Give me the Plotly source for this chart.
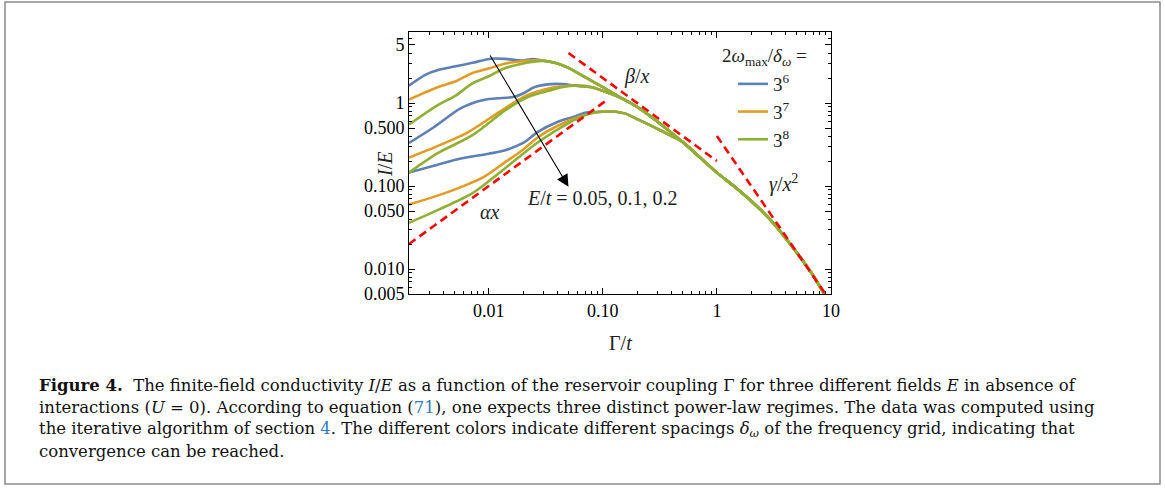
import plotly.graph_objects as go
import math

# ---------------- data ----------------
# common tail after all curves merge (x = Gamma/t, y = I/E)
tail_x = [0.2, 0.3, 0.5, 0.7, 1.0, 1.5, 2.0, 3.0, 5.0, 7.0, 8.5, 10.0]
tail_y = [0.90, 0.60, 0.34, 0.225, 0.145, 0.093, 0.066, 0.038, 0.0158, 0.0083, 0.0053, 0.0036]

# E/t = 0.05 (top group)
top_blue_x = [0.002, 0.0028, 0.0036, 0.005, 0.0072, 0.0105, 0.014, 0.0197, 0.024, 0.03]
top_blue_y = [1.62, 2.2, 2.5, 2.75, 3.05, 3.42, 3.40, 3.25, 3.38, 3.24]
top_orange_x = [0.002, 0.0036, 0.005, 0.0072, 0.01, 0.014, 0.02, 0.025, 0.03]
top_orange_y = [1.1, 1.56, 1.8, 2.3, 2.6, 3.0, 3.2, 3.28, 3.24]
top_green_x = [0.002, 0.0036, 0.005, 0.0072, 0.01, 0.014, 0.02, 0.025, 0.03]
top_green_y = [0.55, 0.95, 1.2, 1.72, 2.1, 2.64, 3.0, 3.15, 3.22]
top_common_x = [0.04, 0.05, 0.07, 0.1, 0.15]
top_common_y = [3.0, 2.65, 2.05, 1.55, 1.12]

# E/t = 0.1 (middle group)
mid_blue_x = [0.002, 0.0033, 0.0057, 0.009, 0.013, 0.0165, 0.02, 0.025, 0.035, 0.045, 0.06]
mid_blue_y = [0.33, 0.51, 0.87, 1.09, 1.15, 1.18, 1.3, 1.55, 1.69, 1.69, 1.6]
mid_orange_x = [0.002, 0.0035, 0.0065, 0.0103, 0.0155, 0.022, 0.035, 0.05, 0.06]
mid_orange_y = [0.22, 0.30, 0.44, 0.66, 0.95, 1.25, 1.52, 1.61, 1.62]
mid_green_x = [0.002, 0.0036, 0.0072, 0.014, 0.022, 0.035, 0.05, 0.06]
mid_green_y = [0.145, 0.25, 0.41, 0.82, 1.18, 1.43, 1.6, 1.62]
mid_common_x = [0.08, 0.1, 0.15]
mid_common_y = [1.55, 1.40, 1.12]

# E/t = 0.2 (bottom group)
bot_blue_x = [0.002, 0.0033, 0.0057, 0.01, 0.014, 0.02, 0.027, 0.04, 0.055, 0.07]
bot_blue_y = [0.145, 0.175, 0.215, 0.245, 0.27, 0.33, 0.45, 0.59, 0.68, 0.765]
bot_orange_x = [0.002, 0.0033, 0.0057, 0.009, 0.014, 0.0197, 0.0272, 0.0383, 0.061]
bot_orange_y = [0.06, 0.074, 0.097, 0.128, 0.195, 0.27, 0.39, 0.514, 0.68]
bot_green_x = [0.002, 0.0036, 0.0072, 0.014, 0.0272, 0.05, 0.07]
bot_green_y = [0.036, 0.0515, 0.082, 0.165, 0.339, 0.574, 0.717]
bot_common_x = [0.09, 0.11, 0.13, 0.16, 0.2, 0.3, 0.4]
bot_common_y = [0.78, 0.79, 0.785, 0.74, 0.64, 0.49, 0.40]

# asymptotic power laws (end points)
alpha_x = [0.002, 0.105]
alpha_y = [0.02, 1.05]
beta_x = [0.05, 1.0]
beta_y = [4.0, 0.2]
gamma_x = [1.0, 10.0]
gamma_y = [0.4, 0.004]

legend_names = ["3<sup>6</sup>", "3<sup>7</sup>", "3<sup>8</sup>"]
colors = ["#5E81B5", "#E19C24", "#8FB032"]

x_tickvals = [0.01, 0.1, 1, 10]
x_ticktext = ["0.01", "0.10", "1", "10"]
y_tickvals = [0.005, 0.01, 0.05, 0.1, 0.5, 1, 5]
y_ticktext = ["0.005", "0.010", "0.050", "0.100", "0.500", "1", "5"]

# ---------------- geometry ----------------
W, H = 1165, 490
L, R, T, B = 409, 831, 32, 294


def px_x(p):
    return (p - L) / (R - L)


def px_y(p):
    return (B - p) / (B - T)


SERIF = "Liberation Serif"
CAPFONT = "DejaVu Serif"

fig = go.Figure()

groups = {
    0: [(top_blue_x, top_blue_y, top_common_x, top_common_y, 0),
        (mid_blue_x, mid_blue_y, mid_common_x, mid_common_y, 0),
        (bot_blue_x, bot_blue_y, bot_common_x, bot_common_y, 2)],
    1: [(top_orange_x, top_orange_y, top_common_x, top_common_y, 0),
        (mid_orange_x, mid_orange_y, mid_common_x, mid_common_y, 0),
        (bot_orange_x, bot_orange_y, bot_common_x, bot_common_y, 2)],
    2: [(top_green_x, top_green_y, top_common_x, top_common_y, 0),
        (mid_green_x, mid_green_y, mid_common_x, mid_common_y, 0),
        (bot_green_x, bot_green_y, bot_common_x, bot_common_y, 2)],
}

for ci in range(3):
    for gi, (xs, ys, cx, cy, tstart) in enumerate(groups[ci]):
        fig.add_trace(go.Scatter(
            x=xs + cx + tail_x[tstart:],
            y=ys + cy + tail_y[tstart:],
            mode="lines",
            line=dict(color=colors[ci], width=2.6, shape="spline", smoothing=0.8),
            name=legend_names[ci],
            showlegend=(gi == 0),
            legendrank=ci + 1,
            hoverinfo="skip",
        ))

for lx, ly in [(alpha_x, alpha_y), (beta_x, beta_y), (gamma_x, gamma_y)]:
    fig.add_trace(go.Scatter(
        x=lx, y=ly, mode="lines",
        line=dict(color="#FF0000", width=2.6, dash="8px,5px"),
        showlegend=False, hoverinfo="skip",
    ))

minor_x = [m * 10.0 ** k for k in range(-3, 1) for m in range(2, 10)]
minor_y = [m * 10.0 ** k for k in range(-3, 1) for m in range(2, 10)]

axis_common = dict(
    type="log", showgrid=False, zeroline=False,
    showline=True, linecolor="black", linewidth=1, mirror="allticks",
    ticks="inside", ticklen=6, tickcolor="black", tickwidth=1,
    tickfont=dict(family=SERIF, size=18, color="black"),
)

fig.update_xaxes(
    **axis_common,
    range=[math.log10(0.002), 1.0],
    tickmode="array", tickvals=x_tickvals, ticktext=x_ticktext,
    minor=dict(tickmode="array", tickvals=minor_x, ticks="inside", ticklen=3,
               tickcolor="black", tickwidth=1, showgrid=False),
)
fig.update_yaxes(
    **axis_common,
    range=[math.log10(0.005), math.log10(7.17)],
    tickmode="array", tickvals=y_tickvals, ticktext=y_ticktext,
    minor=dict(tickmode="array", tickvals=minor_y, ticks="inside", ticklen=3,
               tickcolor="black", tickwidth=1, showgrid=False),
)

annotations = []
# math labels inside the plot (data coordinates, log10 units)
lab_font = dict(family=SERIF, size=20, color="#222222")
annotations.append(dict(x=math.log10(0.2), y=math.log10(2.06), xref="x", yref="y",
                        xanchor="center", yanchor="middle",
                        text="<i>β</i>/<i>x</i>", showarrow=False, font=lab_font))
annotations.append(dict(x=math.log10(3.8), y=math.log10(0.108), xref="x", yref="y",
                        xanchor="center", yanchor="middle",
                        text="<i>γ</i>/<i>x</i><sup>2</sup>", showarrow=False, font=lab_font))
annotations.append(dict(x=math.log10(0.0102), y=math.log10(0.049), xref="x", yref="y",
                        xanchor="center", yanchor="middle",
                        text="<i>αx</i>", showarrow=False, font=lab_font))
annotations.append(dict(x=math.log10(0.1), y=math.log10(0.072), xref="x", yref="y",
                        xanchor="center", yanchor="middle",
                        text="<i>E</i>/<i>t</i> = 0.05, 0.1, 0.2", showarrow=False, font=lab_font))
# arrow
annotations.append(dict(x=math.log10(0.05), y=math.log10(0.098), xref="x", yref="y",
                        ax=math.log10(0.0101), ay=math.log10(3.9), axref="x", ayref="y",
                        text="", showarrow=True, arrowhead=2, arrowsize=2.2,
                        arrowwidth=1.1, arrowcolor="black", standoff=0))
# axis titles
annotations.append(dict(x=px_x(385), y=px_y(165), xref="paper", yref="paper",
                        xanchor="center", yanchor="middle",
                        text="<i>I</i>/<i>E</i>", textangle=-90, showarrow=False,
                        font=dict(family=SERIF, size=20, color="#222222")))
annotations.append(dict(x=px_x(620), y=px_y(343), xref="paper", yref="paper",
                        xanchor="center", yanchor="middle",
                        text="Γ/<i>t</i>", showarrow=False,
                        font=dict(family=SERIF, size=20, color="#222222")))
# legend title
annotations.append(dict(x=px_x(720), y=px_y(57), xref="paper", yref="paper",
                        xanchor="left", yanchor="middle",
                        text="2<i>ω</i><sub>max</sub>/<i>δ</i><sub><i>ω</i></sub> =",
                        showarrow=False, font=dict(family=SERIF, size=19, color="#222222")))

# caption
link = "#2E7CC0"
cap_lines = [
    "<b>Figure 4.</b>&nbsp; The finite-field conductivity <i>I</i>/<i>E</i> as a function of the reservoir coupling Γ for three different fields <i>E</i> in absence of",
    "interactions (<i>U</i> = 0). According to equation (<span style='color:%s'>71</span>), one expects three distinct power-law regimes. The data was computed using" % link,
    "the iterative algorithm of section <span style='color:%s'>4</span>. The different colors indicate different spacings <i>δ</i><sub><i>ω</i></sub> of the frequency grid, indicating that" % link,
    "convergence can be reached.",
]
cap_y = [385, 407, 429, 451]
for txt, yy in zip(cap_lines, cap_y):
    annotations.append(dict(x=px_x(37), y=px_y(yy), xref="paper", yref="paper",
                            xanchor="left", yanchor="middle", text=txt, showarrow=False,
                            font=dict(family=CAPFONT, size=16.5, color="#111111")))

shapes = [dict(type="rect", xref="paper", yref="paper",
               x0=px_x(5), x1=px_x(1160), y0=px_y(484), y1=px_y(2),
               line=dict(color="#8a8a8a", width=1.5), fillcolor="rgba(0,0,0,0)")]

fig.update_layout(
    width=W, height=H,
    margin=dict(l=L, r=W - R, t=T, b=H - B, pad=0),
    paper_bgcolor="white", plot_bgcolor="white",
    annotations=annotations, shapes=shapes,
    showlegend=True,
    legend=dict(x=px_x(733), y=px_y(65), xanchor="left", yanchor="top",
                bgcolor="rgba(0,0,0,0)", borderwidth=0,
                font=dict(family=SERIF, size=19, color="#222222"),
                itemwidth=30, tracegroupgap=0),
)

fig.write_html("out.html")
